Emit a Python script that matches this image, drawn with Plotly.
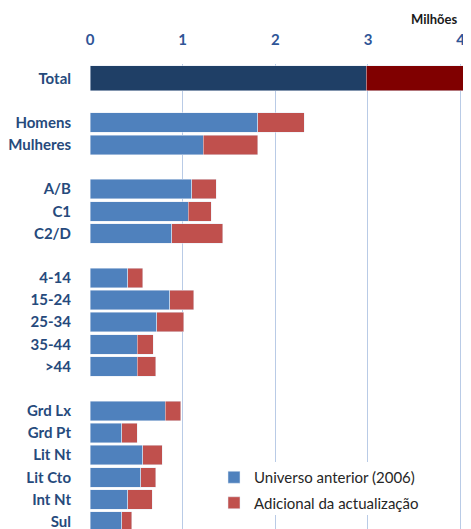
import plotly.graph_objects as go

# ---- data (millions) ----
total_label = "Total"
total_universo = 2.98
total_adicional = 1.14

groups = [
    ["Homens", "Mulheres"],
    ["A/B", "C1", "C2/D"],
    ["4-14", "15-24", "25-34", "35-44", ">44"],
    ["Grd Lx", "Grd Pt", "Lit Nt", "Lit Cto", "Int Nt", "Sul"],
]
universo = [1.81, 1.22,
            1.10, 1.06, 0.88,
            0.41, 0.86, 0.72, 0.51, 0.51,
            0.81, 0.34, 0.57, 0.55, 0.41, 0.34]
adicional = [0.50, 0.59,
             0.26, 0.25, 0.55,
             0.16, 0.26, 0.29, 0.17, 0.20,
             0.17, 0.17, 0.21, 0.16, 0.26, 0.11]
x_ticks = [0, 1, 2, 3, 4]
serie_names = ["Universo anterior (2006)", "Adicional da actualização"]

# ---- build category order with blank separators ----
cats = [c for g in groups for c in g]
order = [total_label]
for i, g in enumerate(groups):
    order.append(" " * (i + 1))
    order.extend(g)

navy_lbl = "#264a7c"
fig = go.Figure()
fig.add_trace(go.Bar(y=cats, x=universo, orientation="h", name=serie_names[0],
                     legendgroup="a", marker=dict(color="#4f81bd"), width=0.88))
fig.add_trace(go.Bar(y=cats, x=adicional, orientation="h", name=serie_names[1],
                     legendgroup="b", marker=dict(color="#c0504d"), width=0.88))
fig.add_trace(go.Bar(y=[total_label], x=[total_universo], orientation="h",
                     marker=dict(color="#1f3f66"), width=1.14, showlegend=False))
fig.add_trace(go.Bar(y=[total_label], x=[total_adicional], orientation="h",
                     marker=dict(color="#800000"), width=1.14, showlegend=False))

OFF = 8  # page body margin
W, H = 471 - OFF, 529 - OFF
mt, mb, ml, mr = 64 - OFF, 0, 90 - OFF, 0
slot_top = -0.645
slot_bottom = slot_top + (H - mt - mb) / 22.17
PW, PH = W - ml - mr, H - mt - mb


def px_x(p):
    return (p - OFF - ml) / PW


def px_y(p):
    return (H - (p - OFF)) / PH


fig.update_layout(
    width=W, height=H,
    margin=dict(t=mt, b=mb, l=ml, r=mr, pad=0, autoexpand=False),
    barmode="stack",
    plot_bgcolor="white", paper_bgcolor="white",
    font=dict(family="Lato", size=14, color=navy_lbl),
    xaxis=dict(side="top", range=[0, 4.112], tickvals=x_ticks, automargin=False,
               showgrid=True, gridcolor="#b9cbe6", gridwidth=1,
               zeroline=False, showline=False, ticklabeloverflow="allow",
               ticks="outside", ticklen=12, tickcolor="rgba(0,0,0,0)",
               tickfont=dict(family="Lato", size=15, color="#2f5597", weight="bold")),
    yaxis=dict(type="category", categoryorder="array", categoryarray=order,
               automargin=False,
               range=[slot_bottom, slot_top], showgrid=False, zeroline=False,
               ticks="outside", ticklen=15, tickcolor="rgba(0,0,0,0)",
               tickfont=dict(family="Lato", size=15, color=navy_lbl, weight="bold")),
    legend=dict(x=px_x(214), y=px_y(461),
                xanchor="left", yanchor="top", bgcolor="rgba(255,255,255,0)",
                font=dict(family="Lato", size=15, color="#262626"),
                traceorder="grouped", tracegroupgap=3, itemwidth=30),
    showlegend=True,
    shapes=[dict(type="rect", xref="paper", yref="paper",
                 x0=px_x(236), x1=px_x(428),
                 y0=px_y(515), y1=px_y(462),
                 fillcolor="white", line=dict(width=0), layer="above")],
    annotations=[dict(text="<b>Milhões</b>", xref="paper", yref="paper",
                      x=px_x(459), y=px_y(19),
                      xanchor="right", yanchor="middle", showarrow=False,
                      font=dict(family="Lato", size=13, color="#1a1a1a"))],
)

fig.write_html("out.html")
